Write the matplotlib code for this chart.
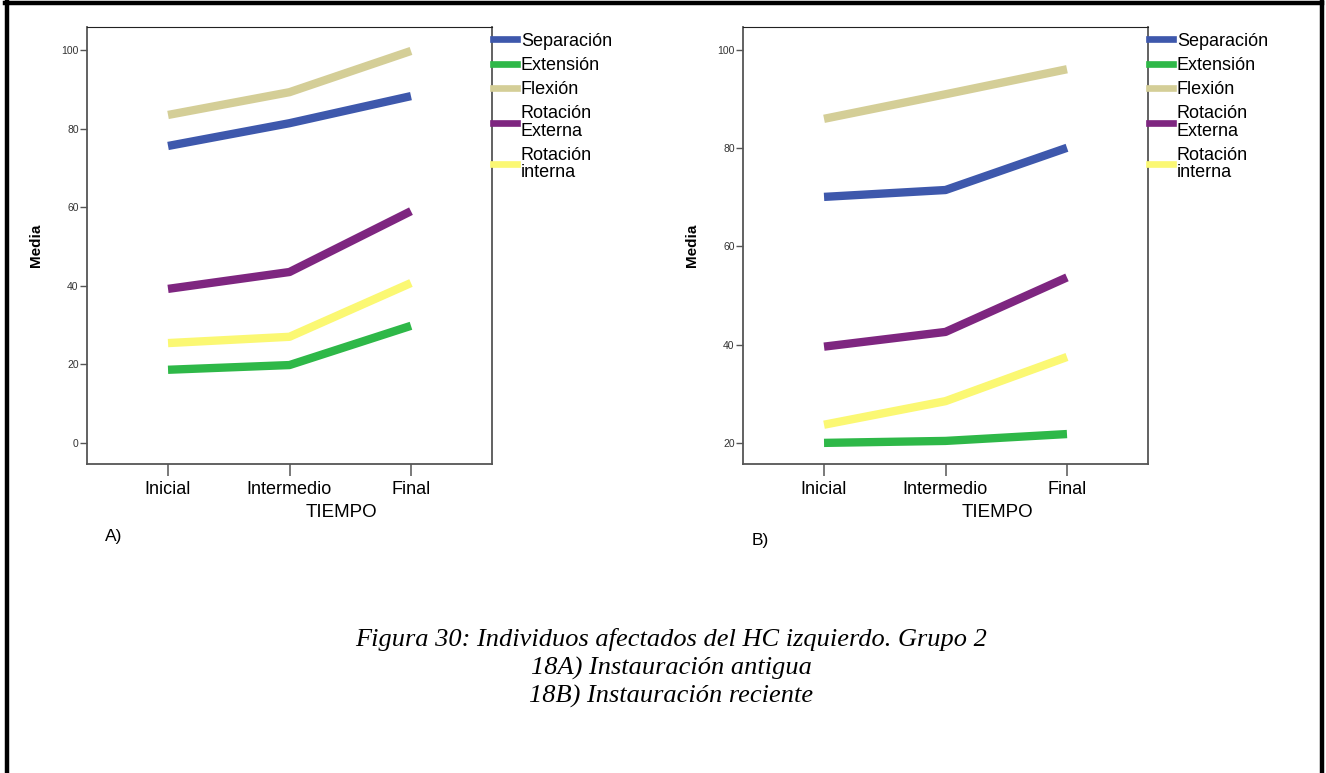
import matplotlib
matplotlib.use("Agg")
import matplotlib.pyplot as plt
from matplotlib.lines import Line2D

plt.rcParams['font.family'] = ['Liberation Sans', 'DejaVu Sans']

tiempos = ['Inicial', 'Intermedio', 'Final']
series = ['Separación', 'Extensión', 'Flexión', 'Rotación\nExterna', 'Rotación\ninterna']
colores = ['#3E58AC', '#2EB848', '#D4CE97', '#7E2680', '#FBF873']

# A) instauración antigua
sep_a = [75.6, 81.4, 88.3]
ext_a = [18.6, 19.8, 29.8]
flex_a = [83.5, 89.3, 99.8]
rext_a = [39.2, 43.5, 59.0]
rint_a = [25.4, 27.0, 40.7]

# B) instauración reciente
sep_b = [70.1, 71.5, 80.1]
ext_b = [20.0, 20.4, 21.8]
flex_b = [86.0, 91.0, 96.1]
rext_b = [39.6, 42.6, 53.7]
rint_b = [23.7, 28.5, 37.5]

yticks_a = [0, 20, 40, 60, 80, 100]
yticks_b = [20, 40, 60, 80, 100]

W, H = 1326, 773
fig = plt.figure(figsize=(W / 100, H / 100), dpi=100)


def panel(left_px, datos, ylim, yticks, letra, letra_xy):
    ax = fig.add_axes([left_px / W, 1 - 464 / H, 405 / W, 437 / H])
    x = range(len(tiempos))
    for vals, c in zip(datos, colores):
        ax.plot(x, vals, color=c, lw=6, solid_capstyle='butt')
    ax.set_xlim(-0.667, 2.667)
    ax.set_ylim(*ylim)
    ax.set_xticks(list(x))
    ax.set_xticklabels(tiempos, fontsize=13)
    ax.set_yticks(yticks)
    ax.set_yticklabels([str(t) for t in yticks], fontsize=7.5, color='#333333')
    ax.tick_params(axis='x', length=8.5, width=1.1, color='#555555', pad=4)
    ax.tick_params(axis='y', length=5, width=1.0, color='#555555', pad=1)
    for s in ['left', 'bottom', 'right']:
        ax.spines[s].set_color('#555555')
        ax.spines[s].set_linewidth(1.3)
    ax.spines['top'].set_color('#222222')
    ax.spines['top'].set_linewidth(0.8)

    ax.set_ylabel('Media', fontsize=11, fontweight='bold')
    ax.yaxis.set_label_coords(-0.108, 0.5)
    ax.set_xlabel('TIEMPO', fontsize=13.5)
    ax.xaxis.set_label_coords(0.628, -0.11)
    ax.xaxis.label.set_va('center')

    handles = [Line2D([], [], color=c, lw=4.8) for c in colores]
    leg = ax.legend(handles, series, loc='upper left', bbox_to_anchor=(0.988, 1.0),
                    frameon=False, fontsize=13, handlelength=1.33,
                    handletextpad=0.22, labelspacing=0.40, borderaxespad=0,
                    borderpad=0.32)
    for t in leg.get_texts():
        t.set_linespacing(1.03)

    fig.text(letra_xy[0] / W, 1 - letra_xy[1] / H, letra, fontsize=12.5,
             ha='center', va='center')
    return ax


panel(87, [sep_a, ext_a, flex_a, rext_a, rint_a], (-5.4, 105.9), yticks_a, 'A)', (114, 537))
panel(743, [sep_b, ext_b, flex_b, rext_b, rint_b], (15.7, 104.7), yticks_b, 'B)', (760, 540))

fig.text(671 / W, 1 - 668 / H,
         'Figura 30: Individuos afectados del HC izquierdo. Grupo 2\n'
         '18A) Instauración antigua\n18B) Instauración reciente',
         family='Liberation Serif', style='italic', fontsize=19,
         ha='center', va='center', linespacing=1.3)

# marco de la página
for xs, ys in [([7, 7], [0, H]), ([5, 1322], [3, 3]), ([1322, 1322], [0, H])]:
    fig.add_artist(Line2D([v / W for v in xs], [1 - v / H for v in ys],
                          color='black', lw=3.2, transform=fig.transFigure))

fig.savefig('out.png', dpi=100)
